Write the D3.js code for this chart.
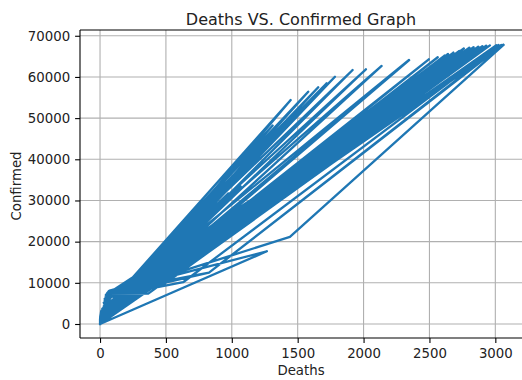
<!DOCTYPE html>
<html><head><meta charset="utf-8">
<script src="https://cdn.jsdelivr.net/npm/d3@7/dist/d3.min.js"></script>
<style>
body{margin:0;background:#fff}
text{font-family:"DejaVu Sans",sans-serif;fill:#222}
</style>
</head><body>
<svg id="chart" width="522" height="380"></svg>
<script>
// ---- data (rows in file order, grouped by observation date) ----
const dates = ["01/22","01/23","01/24","01/25","01/26","01/27","01/28","01/29","01/30","01/31",
  "02/01","02/02","02/03","02/04","02/05","02/06","02/07","02/08","02/09","02/10",
  "02/11","02/12","02/13","02/14","02/15","02/16","02/17","02/18","02/19","02/20",
  "02/21","02/22","02/23","02/24","02/25","02/26","02/27","02/28","02/29","03/01",
  "03/02","03/03","03/04","03/05","03/06","03/07","03/08","03/09","03/10","03/11",
  "03/12","03/13","03/14"];
// largest row of each date (Deaths, Confirmed)
const hubeiDeaths = [17,17,24,52,76,100,125,125,162,204,
  249,350,414,479,549,618,699,780,871,974,
  1068,1068,1310,null,1447,1580,1656,1720,1783,1917,
  2018,2137,2345,2346,2495,2563,2615,2641,2682,2727,
  2761,2803,2835,2871,2902,2931,2959,3008,3024,3046,
  3056,null,3062];
const hubeiConfirmed = [444,444,549,1052,1423,2714,3554,3554,4903,5806,
  7153,11177,13522,16678,19665,22112,24953,27100,29631,31728,
  33366,33366,48206,null,54400,56420,57490,58460,60060,61690,
  61860,62660,64120,64084,64287,64786,65187,65596,65914,66337,
  66907,67103,67217,67332,67466,67592,67666,67707,67743,67760,
  67773,null,67786];
// the other large rows of each date, in file order (Deaths)
const otherDeaths = [[0],[0],[0],[0],[0],[0],[0],[0],[0],[0],
  [0],[0],[0],[0],[0,1],[0,1],[0,1],[0,2],[0,2],[1,3],
  [1,4],[1,4],[2,5],[2,6],[4,6],[5,7],[6,7],[6,8],[6,8],[7,9],
  [7,9],[7,10],[7,10],[8,7],[10,8],[12,8],[8,13],[21,8,16],[29,17],[54,34,17],
  [66,52,28],[77,79,28],[92,107,35],[107,148,35],[197,124,42],[145,233,44],[194,50,366],[237,53,463],[54,291,631],[60,354,827],
  [66,429,827],[66,514,1266],[72,611,1441]];
// the other large rows of each date, in file order (Confirmed)
const otherConfirmed = [[26],[32],[53],[78],[111],[151],[207],[277],[354],[436],
  [535],[632],[725],[829],[895,1100],[954,1300],[1006,1500],[1048,1700],[1075,1900],[1177,2000],
  [1219,2100],[1241,2200],[1261,2300],[1294,2400],[1316,2600],[1322,2700],[1328,2800],[1331,2900],[1332,3000],[1333,3100],
  [1339,3150],[1342,3200],[1345,3250],[833,1345],[977,1347],[1261,1347],[1348,1766],[888,1348,2337],[1128,3150],[978,1694,3736],
  [1501,2036,4335],[2336,2502,5186],[2922,3089,5621],[3513,3858,6088],[4636,4747,6593],[5823,5883,7041],[6566,7314,7375],[7161,7478,9172],[7513,8042,10149],[7755,9000,12462],
  [7869,10075,12462],[7979,11364,17660],[8086,12729,21157]];
// smallest rows that start each date
const smallestDeaths = 0, smallestConfirmed = 0;

const xTicks = [0,500,1000,1500,2000,2500,3000];
const yTicks = [0,10000,20000,30000,40000,50000,60000,70000];

// ---- build row sequence ----
const rows = [];
dates.forEach((d,i)=>{
  rows.push({d:smallestDeaths,c:smallestConfirmed});
  otherDeaths[i].forEach((v,j)=>rows.push({d:v,c:otherConfirmed[i][j]}));
  if(hubeiDeaths[i]!==null) rows.push({d:hubeiDeaths[i],c:hubeiConfirmed[i]});
});

// ---- layout ----
const L=80,R=523,T=30,B=338;
const svg=d3.select("#chart");
const x=d3.scaleLinear().domain([-152,3210]).range([L,R]);
const y=d3.scaleLinear().domain([-3400,71400]).range([B,T]);

// grid
svg.append("g").selectAll("line").data(xTicks).join("line")
  .attr("x1",d=>x(d)).attr("x2",d=>x(d)).attr("y1",T).attr("y2",B)
  .attr("stroke","#b0b0b0").attr("stroke-width",1.1);
svg.append("g").selectAll("line").data(yTicks).join("line")
  .attr("x1",L).attr("x2",R).attr("y1",d=>y(d)).attr("y2",d=>y(d))
  .attr("stroke","#b0b0b0").attr("stroke-width",1.1);

// data line
svg.append("clipPath").attr("id","clip").append("rect")
  .attr("x",L).attr("y",T).attr("width",R-L).attr("height",B-T);
svg.append("path").datum(rows)
  .attr("clip-path","url(#clip)")
  .attr("fill","none").attr("stroke","#1f77b4").attr("stroke-width",2.3)
  .attr("stroke-linejoin","round").attr("stroke-linecap","square")
  .attr("d",d3.line().x(r=>x(r.d)).y(r=>y(r.c)));

// spines
svg.append("line").attr("x1",L).attr("x2",L).attr("y1",T).attr("y2",B).attr("stroke","#000").attr("stroke-width",1.1);
svg.append("line").attr("x1",L).attr("x2",R).attr("y1",B).attr("y2",B).attr("stroke","#000").attr("stroke-width",1.1);
svg.append("line").attr("x1",L).attr("x2",R).attr("y1",T).attr("y2",T).attr("stroke","#000").attr("stroke-width",1.1);

// axes ticks
const xa=svg.append("g").attr("transform",`translate(0,${B})`)
  .call(d3.axisBottom(x).tickValues(xTicks).tickSize(4.9).tickPadding(6).tickFormat(d3.format("d")));
const ya=svg.append("g").attr("transform",`translate(${L},0)`)
  .call(d3.axisLeft(y).tickValues(yTicks).tickSize(4.9).tickPadding(5).tickFormat(d3.format("d")));
[xa,ya].forEach(a=>{
  a.select(".domain").remove();
  a.selectAll(".tick line").attr("stroke","#000").attr("stroke-width",1.1);
  a.selectAll(".tick text").attr("font-family","DejaVu Sans").attr("font-size",13.3).attr("fill","#222");
});

// labels
svg.append("text").attr("x",(L+522)/2).attr("y",25).attr("text-anchor","middle")
  .attr("font-size",16).text("Deaths VS. Confirmed Graph");
svg.append("text").attr("x",(L+522)/2).attr("y",375).attr("text-anchor","middle")
  .attr("font-size",13.3).text("Deaths");
svg.append("text").attr("transform","translate(20.5,186) rotate(-90)").attr("text-anchor","middle")
  .attr("font-size",13.3).text("Confirmed");
</script>
</body></html>
